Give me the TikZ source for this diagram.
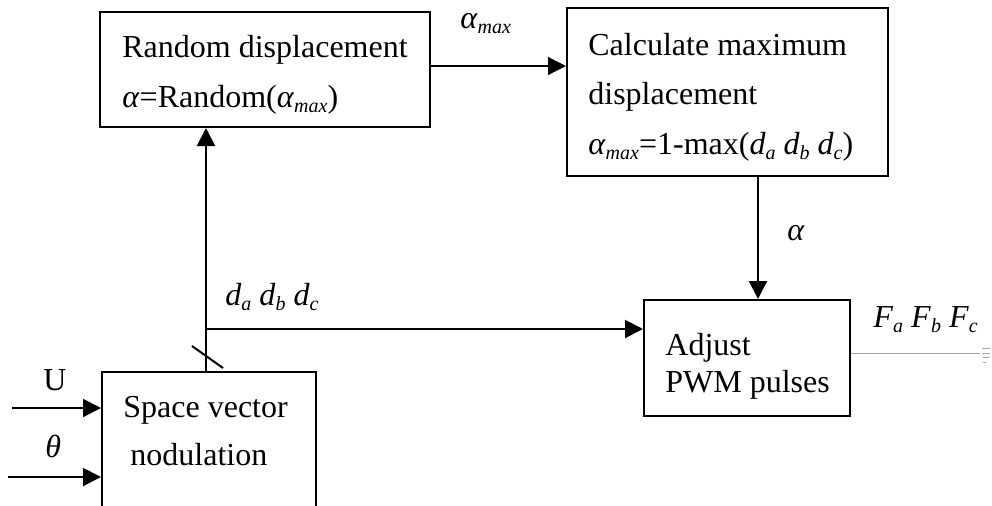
\documentclass[tikz,border=0pt]{standalone}
\usepackage{fontspec}
\setmainfont{Liberation Serif}
\usetikzlibrary{arrows.meta}
\newcommand{\mysub}[2]{\textit{#1}\raisebox{-2.6pt}{\fontsize{10}{10}\selectfont\textit{#2}}}
\begin{document}
\begin{tikzpicture}[x=0.5pt,y=-0.5pt,
  font=\fontsize{16}{19}\selectfont,
  blk/.style={draw, line width=1pt, rectangle, inner sep=0pt},
  lbl/.style={inner sep=0pt, anchor=base west},
  arr/.style={line width=1pt, -{Triangle[length=9pt,width=9pt]}},
  thinarr/.style={line width=0.6pt, -{Triangle[length=9pt,width=9pt]}}]
\useasboundingbox (0,0) rectangle (992,505);
\clip (0,0) rectangle (992,505);
% boxes
\node[blk, minimum width=165pt, minimum height=57.5pt] (R) at (265,69.5) {};
\node[blk, minimum width=160.5pt, minimum height=84pt] (C) at (727.5,92) {};
\node[blk, minimum width=103pt, minimum height=58pt] (A) at (747,358) {};
\node[blk, minimum width=107pt, minimum height=100pt] (S) at (209,472) {};
% box texts
\node[lbl] (r1) at (122,57) {Random displacement};
\node[lbl] (r2) at (122,107) {\textit{α}=Random(\mysub{α}{max})};
\node[lbl] (c1) at (588,55) {Calculate maximum};
\node[lbl] (c2) at (588,104) {displacement};
\node[lbl] (c3) at (588,154) {\mysub{α}{max}=1-max(\mysub{d}{a} \mysub{d}{b} \mysub{d}{c})};
\node[lbl] (a1) at (665,355) {Adjust};
\node[lbl] (a2) at (665,392) {PWM pulses};
\node[lbl] (s1) at (123,417) {Space vector};
\node[lbl] (s2) at (130,465) {nodulation};
% connector labels
\node[lbl] (lamax) at (460,28) {\mysub{α}{max}};
\node[lbl] (lalpha) at (787,240) {\textit{α}};
\node[lbl] (ld) at (225,305) {\mysub{d}{a} \mysub{d}{b} \mysub{d}{c}};
\node[lbl] (lf) at (873,327) {\mysub{F}{a} \mysub{F}{b} \mysub{F}{c}};
\node[lbl] (lu) at (43,390) {U};
\node[lbl] (lth) at (45,457) {\textit{θ}};
% connectors
\coordinate (up) at ([xshift=-1.5pt]S.north);
\draw[arr] (up) -- (R.south -| up);
\coordinate (br) at (206,329);
\draw[arr] (br) -- (br -| A.west);
\coordinate (rc) at ([yshift=1.75pt]R.east);
\draw[thinarr] (rc) -- (rc -| C.west);
\coordinate (ca) at ([xshift=5.5pt]A.north);
\draw[arr] (C.south -| ca) -- (ca);
\coordinate (u0) at (12,408);
\draw[arr] (u0) -- (u0 -| S.west);
\coordinate (t0) at (8,477);
\draw[arr] (t0) -- (t0 -| S.west);
\coordinate (out) at (980,353);
\draw[gray!70, line width=0.5pt] (A.east |- out) -- (out);
% slash on bus
\coordinate (k1) at (192,346);
\coordinate (k2) at (223,368);
\draw[line width=1pt] (k1) -- (k2);
% small end marks
\draw[gray!70, line width=0.5pt] (982,348) -- (990,348) (982,353) -- (990,353) (983,357) -- (989,357) (983,362) -- (986,362);
\end{tikzpicture}
\end{document}
